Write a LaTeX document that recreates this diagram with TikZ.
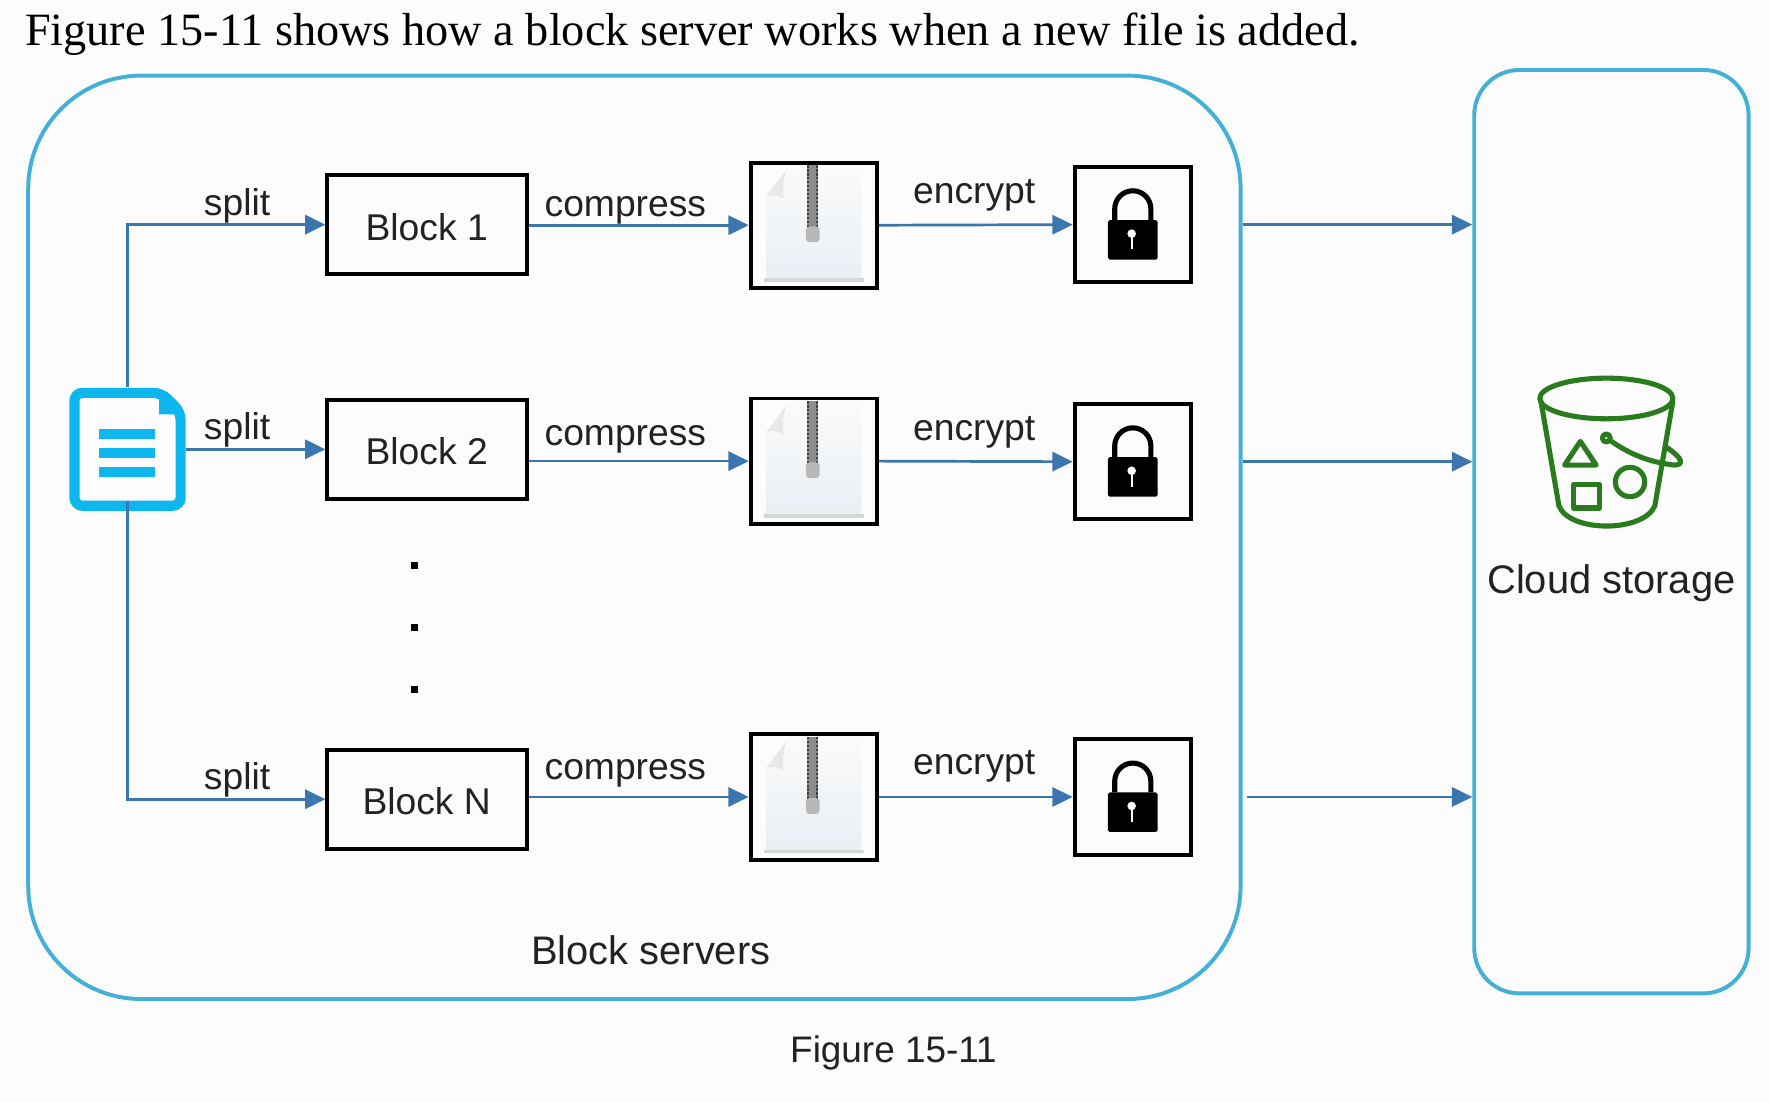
\documentclass[tikz,border=0pt]{standalone}
\usepackage{fontspec}
\setmainfont{Liberation Sans}
\newfontfamily\serifone{Liberation Serif}
\usetikzlibrary{arrows.meta,calc}
\definecolor{linkblue}{HTML}{3C76AE}
\definecolor{frameblue}{HTML}{45B0D5}
\definecolor{fileblue}{HTML}{0DB7EE}
\definecolor{bucketgreen}{HTML}{2A7A1E}
\definecolor{labelgray}{HTML}{222222}
\definecolor{papertop}{HTML}{FAFAFA}
\definecolor{paperlow}{HTML}{E8EFF4}
\tikzset{
  link/.style={draw=linkblue, line width=2.4pt, -{Triangle[length=18pt,width=17pt]}},
  frame/.style={draw=frameblue, line width=3.5pt, fill=none},
  boxed/.style={draw=black, line width=3.5pt, inner sep=0pt},
  word/.style={font=\fontsize{33}{36}\selectfont, text=labelgray, inner sep=0pt},
  bigword/.style={font=\fontsize{35.3}{38}\selectfont, text=labelgray, inner sep=0pt},
  pics/zipper/.style={code={
    \shade[top color=papertop, middle color=papertop, bottom color=paperlow] (-42,50)--(-42,-26)--(-24,-50)--(42,-50)--(42,50)--cycle;
    \fill[black!9] (-42,-26) .. controls (-34,-36) and (-28,-44) .. (-24,-50) .. controls (-27,-40) and (-28,-34) .. (-27,-24) .. controls (-32,-27) and (-37,-27) .. (-42,-26);
    \fill[black!16] (-44,47)--(44,47)--(44,50)--(-44,50)--cycle;
    \fill[black!45] (-6,-53)--(4,-53)--(4,3)--(-6,3)--cycle;
    \draw[black!75, line width=1.5pt, dash pattern=on 2pt off 1.5pt] (-5,-53)--(-5,3);
    \draw[black!75, line width=1.5pt, dash pattern=on 2pt off 1.5pt] (3,-53)--(3,3);
    \fill[black!28, rounded corners=3pt] (-7,1)--(5,1)--(5,15)--(-7,15)--cycle;
  }},
  pics/padlock/.style={code={
    \fill[black, rounded corners=1.5pt] (-22,-4)--(22,-4)--(22,31)--(-22,31)--cycle;
    \draw[black, line width=4.5pt] (-16,-4)--(-16,-14) arc[start angle=180,end angle=360,x radius=16pt,y radius=-16pt]--(16,-4);
    \fill[white] (-1,8) circle (3.8pt);
    \draw[white, line width=1.6pt] (-1,8)--(-1,22);
  }},
}
\begin{document}
\begin{tikzpicture}[x=1pt,y=-1pt]
\useasboundingbox (0,0) rectangle (1568,976.2);
\fill[white!99!black] (0,0) rectangle (1568,976.2);

\node[anchor=base west, inner sep=0pt, font=\fontsize{41}{44}\selectfont\serifone] (intro) at (22,40)
  {Figure 15-11 shows how a block server works when a new file is added.};

\node[frame, rounded corners=100pt, minimum width=1074pt, minimum height=818pt] (servers) at (562,476) {};
\node[frame, rounded corners=40pt, minimum width=243pt, minimum height=818pt] (cloud) at (1427.5,471) {};

% file icon
\node[minimum width=104pt, minimum height=110pt, inner sep=0pt, outer sep=0pt] (file) at (113,398) {};
\draw[fileblue, line width=9pt, rounded corners=7pt] (66,348)--(143,348)--(160,365)--(160,448)--(66,448)--cycle;
\fill[fileblue] (141,346)--(162,367)--(141,367)--cycle;
\foreach \y in {380,397,414}
{
  \fill[fileblue] (88,\y)--(137,\y)--(137,\y+9)--(88,\y+9)--cycle;
}

\foreach \name/\txt/\yblock/\yzip/\ylock in {1/Block 1/199/199.5/199, 2/Block 2/398/408.5/409, N/Block N/708/706/706}
{
  \node[boxed, minimum width=177pt, minimum height=88pt] (block\name) at (378.5,\yblock) {};
  \node[word] (text\name) at (378,\yblock+2) {\txt};
  \node[boxed, minimum width=112pt, minimum height=111pt] (zip\name) at (721,\yzip) {};
  \pic at (zip\name.center) {zipper};
  \node[boxed, minimum width=103pt, minimum height=102pt] (lock\name) at (1003.5,\ylock) {};
  \pic at (lock\name.center) {padlock};

  \draw[link] (block\name.east |- zip\name.west) -- (zip\name.west);
  \draw[link] (zip\name.east) -- (lock\name.west);
}

\draw[link] (file.north) |- (block1.west);
\draw[link] (file.east) -- (block2.west);
\draw[link] ($(file.south)+(0,-9)$) |- (blockN.west);

\draw[link] (servers.east |- lock1.east) -- (cloud.west |- lock1.east);
\draw[link] (servers.east |- lock2.east) -- (cloud.west |- lock2.east);
\draw[link] ($(servers.east |- lockN.east)+(4,0)$) -- (cloud.west |- lockN.east);

\foreach \y [count=\i] in {501,556,611}
{
  \node[fill=black, minimum size=6pt, inner sep=0pt] (dot\i) at (367,\y) {};
}

\foreach \i/\ysplit/\ycomp/\yenc in {1/182/186/173, 2/381/389/383, 3/691/685/679}
{
  \node[word] (split\i) at (210,\ysplit) {split};
  \node[word] (compress\i) at (554,\ycomp) {compress};
  \node[word] (encrypt\i) at (863,\yenc) {encrypt};
}

\node[bigword] (serverslabel) at (576.5,842) {Block servers};
\node[bigword] (cloudlabel) at (1427.5,517) {Cloud storage};
\node[word, font=\fontsize{32.7}{36}\selectfont] (caption) at (791.5,933) {Figure 15-11};

% bucket
\begin{scope}[draw=bucketgreen, line width=4.5pt, line join=round]
  \draw (1423,353) ellipse [x radius=59pt, y radius=18pt];
  \draw (1365,355) -- (1381,448) .. controls (1390,472) and (1456,472) .. (1466,448) -- (1482,355);
  \draw (1400,391) -- (1414,412) -- (1386,412) -- cycle;
  \draw (1394,429) -- (1417,429) -- (1417,450) -- (1394,450) -- cycle;
  \draw (1444,427) circle (13pt);
  \draw (1423,388) circle (3.5pt);
  \draw (1426,390) .. controls (1445,403) and (1460,409) .. (1483,412) .. controls (1492,412) and (1491,406) .. (1476,396);
\end{scope}
\end{tikzpicture}
\end{document}
